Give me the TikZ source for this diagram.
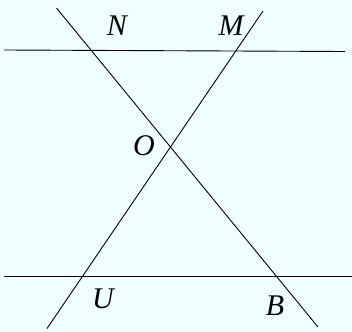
\documentclass[tikz,border=0pt]{standalone}
\usepackage{fontspec}
\setmainfont{Liberation Serif}
\begin{document}
\begin{tikzpicture}[x=1pt,y=-1pt,
  ln/.style={draw=black,line width=0.9pt},
  lbl/.style={font=\itshape\fontsize{30}{30}\selectfont,inner sep=0pt}]
\definecolor{bgc}{HTML}{F0FFFF}
\fill[bgc] (0,0) rectangle (352,331);
\useasboundingbox (0,0) rectangle (352,331);
\coordinate (t1) at (4,50);
\coordinate (t2) at (345,51.5);
\coordinate (b1) at (4,276.7);
\coordinate (b2) at (352,276.7);
\coordinate (n1) at (56.5,8);
\coordinate (n2) at (318,327);
\coordinate (m1) at (263,11);
\coordinate (m2) at (47,328.5);
\draw[ln] (t1) -- (t2);
\draw[ln] (b1) -- (b2);
\draw[ln] (n1) -- (n2);
\draw[ln] (m1) -- (m2);
\node[lbl] (N) at (117,26) {N};
\node[lbl] (M) at (231,26) {M};
\node[lbl] (O) at (144,146) {O};
\node[lbl] (U) at (103,299) {U};
\node[lbl] (B) at (275,306) {B};
\end{tikzpicture}
\end{document}
